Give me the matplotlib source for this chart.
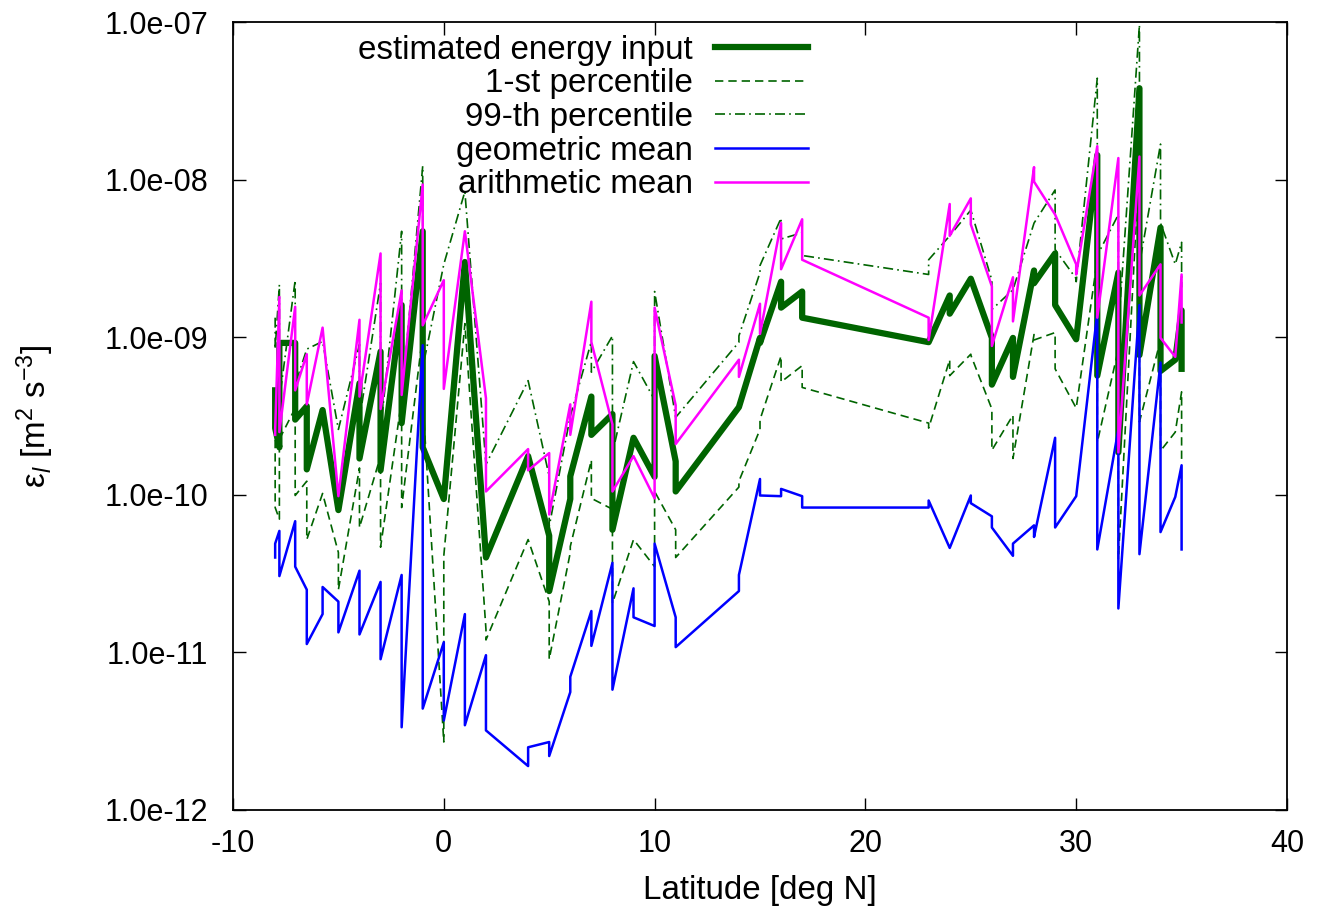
import matplotlib.pyplot as plt
from matplotlib.ticker import FixedLocator, FuncFormatter, NullLocator

# latitude of each sample (repeated latitudes are separate stations at the same latitude)
lat = [-8, -8, -7.8, -7.8, -7.05, -7.05, -6.5, -6.5, -5.75, -5.75, -5, -5,
       -4, -4, -3, -3, -2, -2, -1, -1, 0, 0, 1, 1, 2, 2,
       4, 4, 5, 5, 6, 6, 7, 7, 8, 8, 9, 9, 10, 10, 11, 11,
       14, 14, 15, 15, 16, 16, 17, 17,
       23, 23, 24, 24, 25, 25, 26, 26, 27, 27, 28, 28, 29, 29, 30, 30,
       31, 31, 32, 32, 33, 33, 34, 34, 34.7, 34.7, 35, 35]

energy = [4.6e-10, 2.65e-10, 2.0e-10, 9.2e-10, 9.2e-10, 3.0e-10, 3.65e-10, 1.45e-10, 3.45e-10, 3.45e-10,
          8.0e-11, 8.0e-11, 5.1e-10, 1.7e-10, 8.1e-10, 1.43e-10, 1.6e-9, 2.85e-10, 4.7e-9, 2.0e-10,
          9.4e-11, 9.4e-11, 3.0e-9, 3.0e-9, 4.0e-11, 4.0e-11, 1.76e-10, 1.76e-10, 5.5e-11, 2.45e-11,
          9.4e-11, 1.31e-10, 4.2e-10, 2.4e-10, 3.25e-10, 6.0e-11, 2.3e-10, 2.3e-10, 1.3e-10, 7.6e-10,
          1.63e-10, 1.05e-10, 3.6e-10, 3.6e-10, 9.9e-10, 9.2e-10, 2.25e-9, 1.54e-9, 1.95e-9, 1.33e-9,
          9.3e-10, 9.3e-10, 1.84e-9, 1.41e-9, 2.35e-9, 2.35e-9, 9.9e-10, 5.0e-10, 9.9e-10, 5.6e-10,
          2.65e-9, 2.2e-9, 3.4e-9, 1.6e-9, 9.7e-10, 9.7e-10, 1.43e-8, 5.7e-10, 2.57e-9, 1.86e-10,
          3.8e-8, 7.7e-10, 4.96e-9, 6.1e-10, 7.2e-10, 7.2e-10, 1.48e-9, 6.3e-10]

p1 = [4.0e-10, 8.3e-11, 7.0e-11, 2.25e-10, 3.55e-10, 9.9e-11, 1.22e-10, 5.2e-11, 1.02e-10, 1.02e-10,
      4.3e-11, 2.5e-11, 1.48e-10, 6.2e-11, 1.76e-10, 4.65e-11, 4.0e-10, 8.3e-11, 1.04e-9, 4.0e-10,
      2.7e-12, 4.1e-11, 1.22e-9, 1.22e-9, 1.4e-11, 1.2e-11, 5.2e-11, 5.2e-11, 2.1e-11, 9.05e-12,
      4.3e-11, 4.7e-11, 1.66e-10, 9.5e-11, 8.1e-11, 2.05e-11, 5.2e-11, 5.2e-11, 3.5e-11, 1.05e-10,
      6.0e-11, 4.0e-11, 1.12e-10, 1.22e-10, 2.6e-10, 3.0e-10, 7.6e-10, 5.2e-10, 6.6e-10, 4.8e-10,
      2.85e-10, 2.65e-10, 7.2e-10, 5.7e-10, 7.8e-10, 7.7e-10, 3.5e-10, 1.92e-10, 3.2e-10, 1.7e-10,
      1.04e-9, 9.6e-10, 1.07e-9, 6.3e-10, 3.55e-10, 3.55e-10, 3.1e-9, 2.15e-10, 8.4e-10, 3.9e-11,
      1.31e-8, 2.9e-10, 9.6e-10, 1.9e-10, 2.5e-10, 2.5e-10, 4.5e-10, 1.68e-10]

p99 = [1.33e-9, 8.4e-10, 2.15e-9, 4.0e-10, 2.3e-9, 5.0e-10, 8.4e-10, 8.4e-10, 9.4e-10, 9.4e-10,
       2.6e-10, 2.6e-10, 9.0e-10, 3.0e-10, 2.2e-9, 2.6e-10, 4.7e-9, 4.0e-10, 1.22e-8, 6.4e-10,
       2.9e-9, 2.9e-9, 8.4e-9, 8.4e-9, 1.56e-10, 1.56e-10, 5.3e-10, 5.3e-10, 1.31e-10, 6.3e-11,
       3.15e-10, 3.15e-10, 9.4e-10, 6.0e-10, 1.02e-9, 1.84e-10, 7.0e-10, 7.0e-10, 4.0e-10, 1.95e-9,
       3.1e-10, 3.1e-10, 9.3e-10, 1.02e-9, 2.57e-9, 2.85e-9, 5.7e-9, 4.2e-9, 4.6e-9, 3.3e-9,
       2.5e-9, 3.1e-9, 4.4e-9, 4.4e-9, 6.4e-9, 6.4e-9, 2.3e-9, 1.5e-9, 2.0e-9, 2.0e-9,
       5.3e-9, 5.3e-9, 8.6e-9, 3.6e-9, 2.35e-9, 2.25e-9, 4.4e-8, 3.3e-9, 6.0e-9, 1.12e-9,
       9.6e-8, 2.9e-9, 1.68e-8, 5.3e-9, 2.9e-9, 2.9e-9, 4.0e-9, 2.07e-9]

geo_mean = [4.0e-11, 4.9e-11, 5.9e-11, 3.05e-11, 6.8e-11, 3.5e-11, 2.5e-11, 1.13e-11, 1.75e-11, 2.6e-11,
            2.1e-11, 1.34e-11, 3.3e-11, 1.3e-11, 2.8e-11, 9.05e-12, 3.1e-11, 3.35e-12, 8.9e-10, 4.4e-12,
            1.16e-11, 3.7e-12, 1.75e-11, 3.45e-12, 9.6e-12, 3.2e-12, 1.9e-12, 2.5e-12, 2.7e-12, 2.2e-12,
            5.6e-12, 7.0e-12, 1.83e-11, 1.1e-11, 3.7e-11, 5.8e-12, 2.55e-11, 1.67e-11, 1.47e-11, 4.9e-11,
            1.67e-11, 1.08e-11, 2.45e-11, 3.1e-11, 1.26e-10, 9.9e-11, 9.8e-11, 1.09e-10, 9.8e-11, 8.3e-11,
            8.3e-11, 9.2e-11, 4.6e-11, 4.6e-11, 9.9e-11, 8.85e-11, 7.3e-11, 6.2e-11, 4.1e-11, 4.9e-11,
            6.4e-11, 5.4e-11, 2.3e-10, 6.2e-11, 9.8e-11, 9.8e-11, 1.43e-9, 4.5e-11, 2.6e-10, 1.9e-11,
            1.6e-9, 4.2e-11, 6.9e-10, 5.8e-11, 9.7e-11, 9.7e-11, 1.54e-10, 4.5e-11]

arith_mean = [2.4e-10, 2.6e-10, 1.8e-9, 2.5e-10, 1.56e-9, 4.6e-10, 7.8e-10, 3.75e-10, 1.15e-9, 1.15e-9,
              9.8e-11, 9.8e-11, 1.29e-9, 4.2e-10, 3.4e-9, 3.5e-10, 1.98e-9, 4.3e-10, 9.3e-9, 1.19e-9,
              2.3e-9, 4.7e-10, 4.7e-9, 4.7e-9, 4.1e-10, 1.05e-10, 1.95e-10, 1.43e-10, 1.84e-10, 7.5e-11,
              3.75e-10, 2.4e-10, 1.68e-9, 9.3e-10, 2.8e-10, 1.05e-10, 1.76e-10, 1.76e-10, 9.5e-11, 1.54e-9,
              3.7e-10, 2.1e-10, 7.2e-10, 5.6e-10, 1.63e-9, 1.05e-9, 5.3e-9, 2.7e-9, 5.6e-9, 3.1e-9,
              1.33e-9, 9.6e-10, 7.0e-9, 4.4e-9, 7.6e-9, 5.2e-9, 2.1e-9, 8.8e-10, 2.4e-9, 1.26e-9,
              1.2e-8, 9.7e-9, 6.0e-9, 6.0e-9, 2.9e-9, 2.5e-9, 1.63e-8, 1.33e-9, 1.37e-8, 1.86e-10,
              1.4e-8, 1.84e-9, 2.9e-9, 9.9e-10, 7.5e-10, 7.5e-10, 2.5e-9, 1.24e-9]

x_ticks = [-10, 0, 10, 20, 30, 40]
y_ticks = [1e-12, 1e-11, 1e-10, 1e-9, 1e-8, 1e-7]

plt.rcParams['font.family'] = ['Liberation Sans', 'DejaVu Sans']
plt.rcParams['mathtext.fontset'] = 'custom'
plt.rcParams['mathtext.rm'] = 'Liberation Sans'
plt.rcParams['mathtext.it'] = 'Liberation Sans:italic'
plt.rcParams['axes.unicode_minus'] = False

FS = 23.9        # legend and axis titles
TICK_FS = 22     # tick labels
GREEN = '#006400'

fig = plt.figure(figsize=(13.25, 9.14), dpi=100)
ax = fig.add_axes([233 / 1325, 1 - 810 / 914, 1054 / 1325, 788 / 914])

ax.plot(lat, energy, color=GREEN, lw=4.5, label='estimated energy input')
ax.plot(lat, p1, color=GREEN, lw=1.2, linestyle=(0, (5, 3)), label='1-st percentile')
ax.plot(lat, p99, color=GREEN, lw=1.2, linestyle=(0, (6, 2.5, 1, 2.5)), label='99-th percentile')
ax.plot(lat, geo_mean, color='#0000ff', lw=1.8, label='geometric mean')
ax.plot(lat, arith_mean, color='#ff00ff', lw=1.8, label='arithmetic mean')

ax.set_yscale('log')
ax.set_xlim(-10, 40)
ax.set_ylim(1e-12, 1e-7)
ax.xaxis.set_major_locator(FixedLocator(x_ticks))
ax.yaxis.set_major_locator(FixedLocator(y_ticks))
ax.yaxis.set_minor_locator(NullLocator())
ax.yaxis.set_major_formatter(FuncFormatter(lambda v, _: f'{v:.1e}'))

ax.tick_params(which='both', direction='in', top=True, right=True, length=9, width=1,
               labelsize=TICK_FS)
ax.tick_params(axis='y', pad=18)
ax.tick_params(axis='x', pad=14)
for side in ax.spines.values():
    side.set_linewidth(1.3)

ax.set_xlabel('Latitude [deg N]', fontsize=FS)
ax.set_ylabel(r'$\mathrm{\varepsilon}_l$ [m$^2$ s$^{-3}$]', fontsize=FS)
ax.xaxis.set_label_coords(0.5, -0.082)
ax.yaxis.set_label_coords(-0.168, 0.5)

ax.legend(loc='upper right', bbox_to_anchor=(0.5455, 0.9838), markerfirst=False, frameon=False,
          fontsize=FS, handlelength=2.8, handletextpad=0.66, labelspacing=0.08,
          borderpad=0, borderaxespad=0)

fig.savefig('out.png', dpi=100)
